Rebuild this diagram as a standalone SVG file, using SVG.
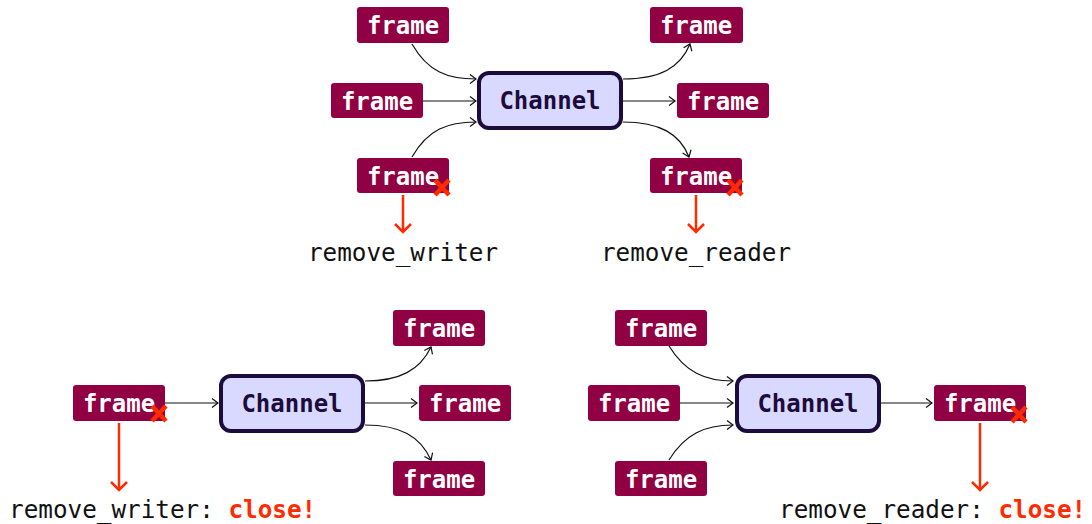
<svg xmlns="http://www.w3.org/2000/svg" width="1092" height="524" viewBox="0 0 1092 524">
<style>
.fr rect{fill:#910042;}
.fr text{fill:#ffffff;font-family:"DejaVu Sans Mono","Liberation Mono",monospace;font-weight:bold;font-size:24px;text-anchor:middle;}
.ch rect{fill:#d9d9ff;stroke:#1c0b3d;stroke-width:4;}
.ch text{fill:#1c0b3d;font-family:"DejaVu Sans Mono","Liberation Mono",monospace;font-weight:bold;font-size:24px;text-anchor:middle;}
.lbl{fill:#111111;font-family:"DejaVu Sans Mono","Liberation Mono",monospace;font-size:24.3px;}
.cl{fill:#ff2a00;font-weight:bold;}
.conn path{fill:none;stroke:#111111;stroke-width:1.2;marker-end:url(#ah);}
.red path{fill:none;stroke:#ff2a00;stroke-width:2.5;marker-end:url(#rah);}
.x path{stroke:#ff2a00;stroke-width:4.5;fill:none;}
</style>
<defs>
<marker id="ah" markerUnits="userSpaceOnUse" markerWidth="14" markerHeight="14" viewBox="-8 -7 10 14" refX="0" refY="0" orient="auto">
<path d="M-6,-4.5 L0,0 L-6,4.5" fill="none" stroke="#111111" stroke-width="1.2"/>
</marker>
<marker id="rah" markerUnits="userSpaceOnUse" markerWidth="20" markerHeight="20" viewBox="-10 -10 12 20" refX="0" refY="0" orient="auto">
<path d="M-8,-8 L0,0 L-8,8" fill="none" stroke="#ff2a00" stroke-width="2.5"/>
</marker>
</defs>

<g id="connectors">
<g class="conn">
<path d="M412,44 C428,72 448,79 476,79"/>
<path d="M423,101 L476,101"/>
<path d="M412,157 C428,129 448,122 476,122"/>
<path d="M623,79 C660,79 680,68 690,44"/>
<path d="M623,101 L675,101"/>
<path d="M623,122 C660,122 680,134 689,157"/>
<path d="M165,403 L218,403"/>
<path d="M365,381 C400,381 420,370 431,347"/>
<path d="M365,403 L417,403"/>
<path d="M365,425 C400,425 420,436 431,460"/>
<path d="M669,346 C685,372 705,381 733,381"/>
<path d="M680,403 L733,403"/>
<path d="M669,460 C685,434 705,425 733,425"/>
<path d="M880,403 L932,403"/>
</g>
<g class="red">
<path d="M403,195 L403,232"/>
<path d="M696,195 L696,232"/>
<path d="M119,423 L119,490"/>
<path d="M980,423 L980,490"/>
</g>
</g>

<g id="top-channel" class="ch"><rect x="479" y="73" width="142" height="55" rx="10"/><text x="550" y="109">Channel</text></g>
<g id="top-w1" class="fr"><rect x="357" y="7" width="92" height="36" rx="3"/><text x="403" y="34">frame</text></g>
<g id="top-w2" class="fr"><rect x="331" y="83" width="92" height="35" rx="3"/><text x="377" y="110">frame</text></g>
<g id="top-w3" class="fr"><rect x="357" y="158" width="92" height="35" rx="3"/><text x="403" y="185">frame</text></g>
<g id="top-r1" class="fr"><rect x="650" y="7" width="93" height="36" rx="3"/><text x="696" y="34">frame</text></g>
<g id="top-r2" class="fr"><rect x="677" y="83" width="92" height="35" rx="3"/><text x="723" y="110">frame</text></g>
<g id="top-r3" class="fr"><rect x="650" y="158" width="92" height="35" rx="3"/><text x="696" y="185">frame</text></g>

<g id="bl-channel" class="ch"><rect x="221" y="376" width="142" height="55" rx="10"/><text x="292" y="412">Channel</text></g>
<g id="bl-w" class="fr"><rect x="73" y="385" width="92" height="36" rx="3"/><text x="119" y="412">frame</text></g>
<g id="bl-r1" class="fr"><rect x="393" y="310" width="92" height="36" rx="3"/><text x="439" y="337">frame</text></g>
<g id="bl-r2" class="fr"><rect x="419" y="385" width="92" height="36" rx="3"/><text x="465" y="412">frame</text></g>
<g id="bl-r3" class="fr"><rect x="393" y="461" width="92" height="35" rx="3"/><text x="439" y="488">frame</text></g>

<g id="br-channel" class="ch"><rect x="737" y="376" width="142" height="55" rx="10"/><text x="808" y="412">Channel</text></g>
<g id="br-w1" class="fr"><rect x="615" y="310" width="92" height="36" rx="3"/><text x="661" y="337">frame</text></g>
<g id="br-w2" class="fr"><rect x="588" y="385" width="92" height="36" rx="3"/><text x="634" y="412">frame</text></g>
<g id="br-w3" class="fr"><rect x="615" y="461" width="92" height="35" rx="3"/><text x="661" y="488">frame</text></g>
<g id="br-r" class="fr"><rect x="934" y="385" width="92" height="36" rx="3"/><text x="980" y="412">frame</text></g>

<g id="crosses" class="x">
<path d="M435,180 L449,195 M449,180 L435,195"/>
<path d="M728,180 L742,195 M742,180 L728,195"/>
<path d="M152,406 L166,421 M166,406 L152,421"/>
<path d="M1012,407 L1026,422 M1026,407 L1012,422"/>
</g>

<g id="labels">
<text class="lbl" x="403" y="261" text-anchor="middle">remove_writer</text>
<text class="lbl" x="696" y="261" text-anchor="middle">remove_reader</text>
<text class="lbl" x="9" y="518">remove_writer: <tspan class="cl">close!</tspan></text>
<text class="lbl" x="779" y="518">remove_reader: <tspan class="cl">close!</tspan></text>
</g>
</svg>
